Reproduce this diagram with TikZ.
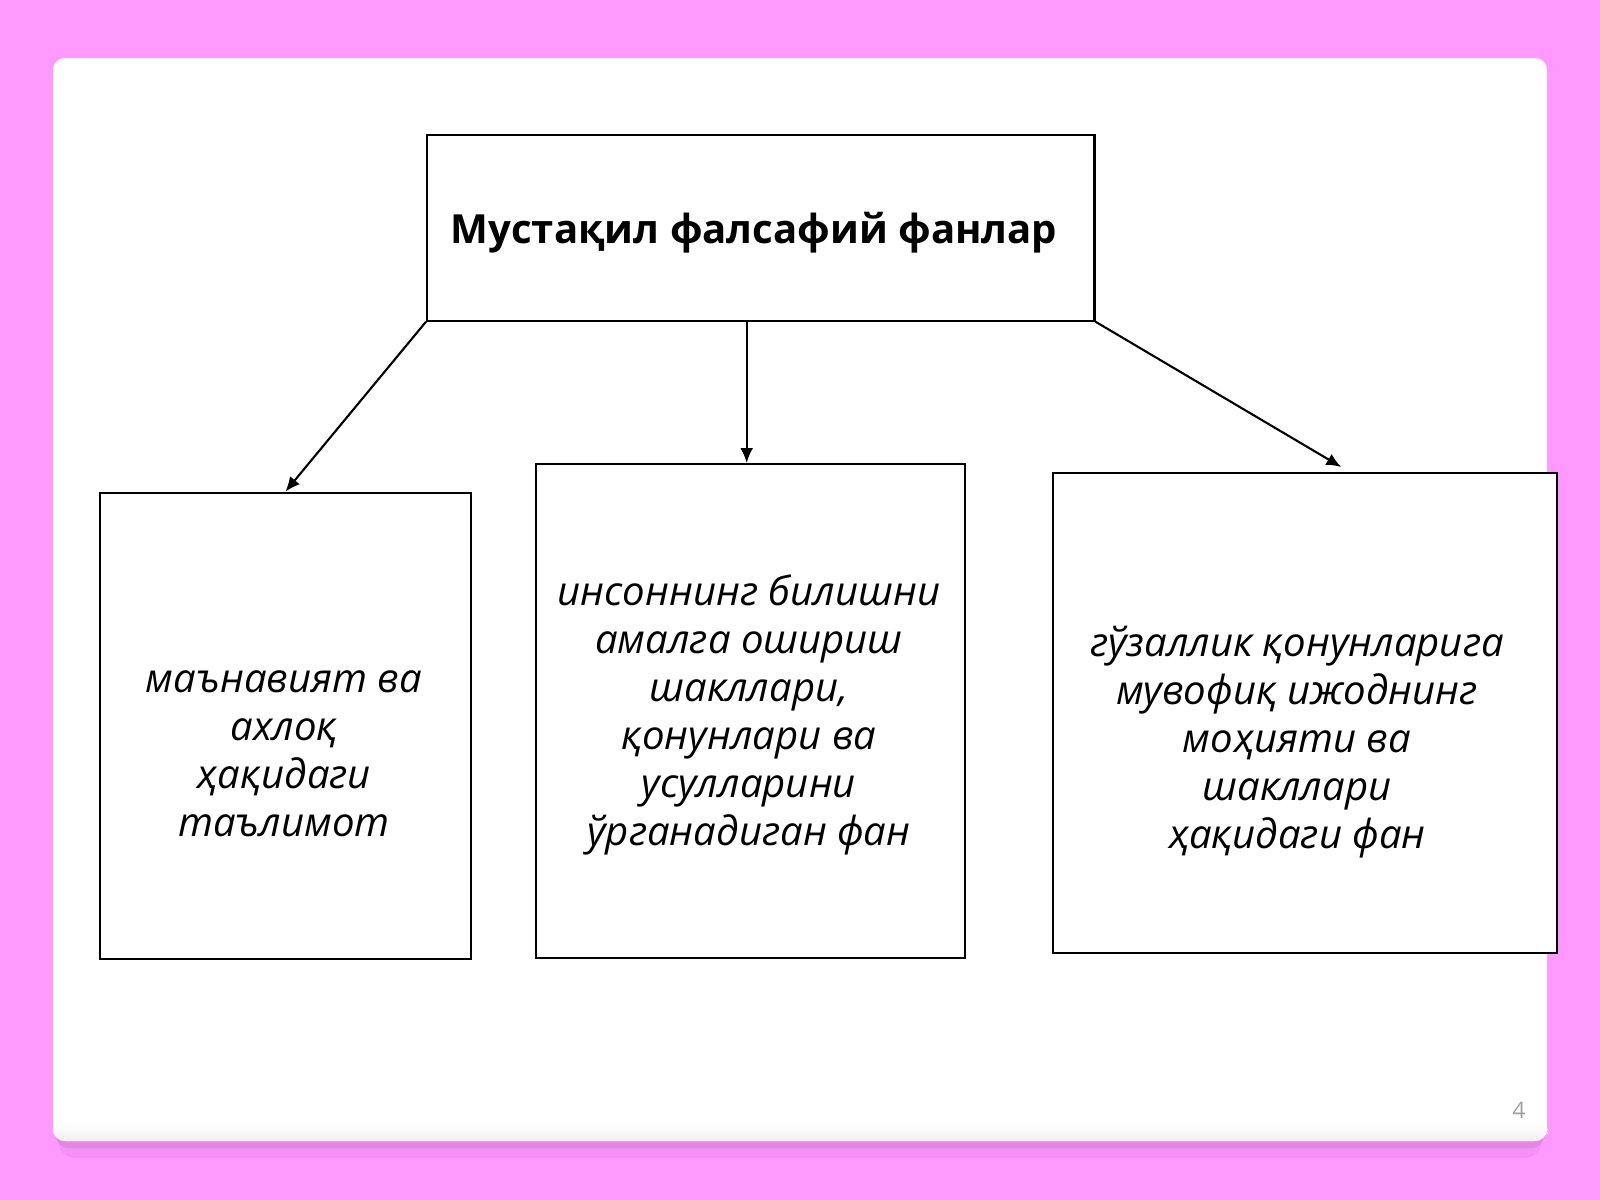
\documentclass[tikz,border=0pt]{standalone}
\usepackage{fontspec}
\setmainfont{Open Sans}
\usetikzlibrary{arrows.meta,positioning}
\definecolor{pinkbg}{HTML}{FF99FF}
\definecolor{shadowpink}{HTML}{C873C8}
\tikzset{
  boxnode/.style={draw, line width=0.6pt, fill=white, inner sep=0pt, anchor=north west},
  bodytext/.style={align=center, font=\itshape\fontsize{11.4}{13.6}\selectfont},
  arrowline/.style={line width=0.6pt, -{Latex[length=4.2pt,width=3.6pt]}},
}
\begin{document}
\begin{tikzpicture}[x=0.01cm, y=-0.01cm]
            % Page and card
            \useasboundingbox (0,0) rectangle (1600,1200);
            \fill[pinkbg] (0,0) rectangle (1600,1200);
            \fill[shadowpink, opacity=0.2, rounded corners=5pt] (58,70) rectangle (1542,1158);
            \fill[shadowpink, opacity=0.35, rounded corners=4pt] (55,64) rectangle (1545,1148);
            \fill[white, rounded corners=3.4pt] (53,58) rectangle (1547,1141);
            \shade[top color=white, bottom color=gray!12, rounded corners=3.4pt] (53,1122) rectangle (1547,1141);
            % Boxes
            \node[boxnode, minimum width=6.67cm, minimum height=1.86cm] (top) at (426,133.5) {};
            \foreach \n/\x/\y/\w/\h in {left/98.7/491.7/3.71/4.66, mid/535/463/4.29/4.94, right/1052/472/5.04/4.80} {
                \node[boxnode, minimum width=\w cm, minimum height=\h cm] (\n) at (\x,\y) {};
            }
            % Texts
            \node[font=\bfseries\fontsize{11.4}{13.6}\selectfont] (title) at (754,233) {Мустақил фалсафий фанлар};
            \node[bodytext] (lefttext) at (284,754) {маънавият ва\\ахлоқ\\ҳақидаги\\таълимот};
            \node[bodytext] (midtext) at (749,715) {инсоннинг билишни\\амалга ошириш\\шакллари,\\қонунлари ва\\усулларини\\ўрганадиган фан};
            \node[bodytext] (righttext) at (1297,742) {гўзаллик қонунларига\\мувофиқ ижоднинг\\моҳияти ва\\шакллари\\ҳақидаги фан};
            % Arrows
            \draw[arrowline] (top.south west) -- (left.north);
            \draw[arrowline] ([xshift=-0.04cm]top.south -| mid.north) -- ([xshift=-0.04cm]mid.north);
            \draw[arrowline] (top.south east) -- ([xshift=0.36cm, yshift=0.05cm]right.north);
            % Page number
            \node[text=gray!75, font=\fontsize{6.5}{8}\selectfont] (pagenum) at (1519,1110) {4};
\end{tikzpicture}
\end{document}
